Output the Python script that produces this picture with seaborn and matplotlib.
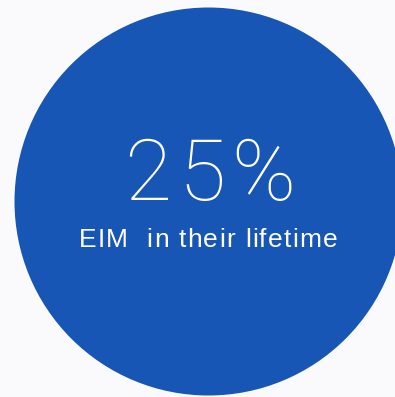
import matplotlib
matplotlib.use("Agg")
import matplotlib.pyplot as plt
import matplotlib.font_manager as fm
from matplotlib.ft2font import FT2Font
import seaborn as sns
import pandas as pd

# Headline statistic shown inside the disc
share_pct = [25]
caption = ["EIM  in their lifetime"]

# Disc placement (pixel-space coordinates of the canvas)
disc_x = [208]
disc_y = [201]
disc_radius = 194

BG = "#FAFAFD"
BLUE = "#1756B4"
DPI = 100

sns.set_theme(style="white")
plt.rcParams["font.family"] = ["Liberation Sans", "DejaVu Sans"]

W, H = 395, 397
fig = plt.figure(figsize=(W / DPI, H / DPI), dpi=DPI, facecolor=BG)
ax = fig.add_axes([0, 0, 1, 1])
ax.set_facecolor(BG)

df = pd.DataFrame({"x": disc_x, "y": disc_y})
# marker diameter in points so the disc spans 2*radius pixels
diam_pt = 2 * disc_radius * 72 / DPI
sns.scatterplot(data=df, x="x", y="y", s=diam_pt ** 2, color=BLUE,
                linewidth=0, legend=False, ax=ax)
ax.set_xlim(0, W)
ax.set_ylim(H, 0)
ax.set_aspect("equal")
ax.axis("off")


def tracked_text(ax, xc, y, s, size, family, weight="normal", tracking=0.0,
                 color="white"):
    """Draw s centred on xc with extra letter spacing (in pixels)."""
    prop = fm.FontProperties(family=family, weight=weight, size=size)
    font = FT2Font(fm.findfont(prop))
    font.set_size(size, DPI)
    adv = [font.load_char(ord(c)).linearHoriAdvance / 65536 for c in s]
    total = sum(adv) + tracking * (len(s) - 1)
    x = xc - total / 2
    for c, a in zip(s, adv):
        if c != " ":
            ax.text(x, y, c, fontproperties=prop, color=color,
                    ha="left", va="baseline")
        x += a + tracking


tracked_text(ax, 210, 200, f"{share_pct[0]}%", 62, "Roboto",
             weight="light", tracking=6.5)
tracked_text(ax, 208, 247, caption[0], 19, "Liberation Sans", tracking=1.3)

fig.savefig("out.png", dpi=DPI, facecolor=BG)
